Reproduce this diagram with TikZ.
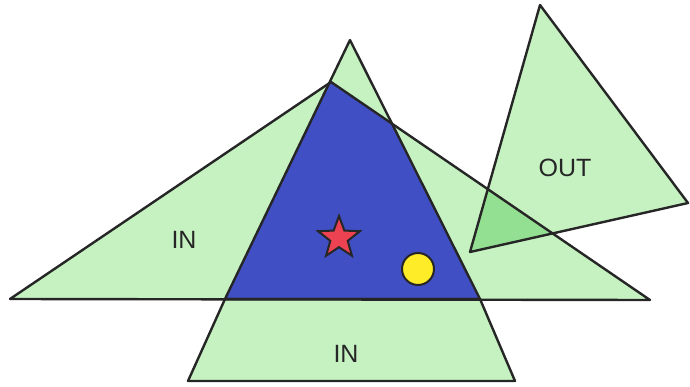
\documentclass[tikz,border=0pt]{standalone}
\usepackage{fontspec}
\newfontfamily\labelfont{Liberation Sans}
\usepackage{tikz}
\usetikzlibrary{shapes.geometric}
\definecolor{ingreen}{RGB}{198,242,194}
\definecolor{mixgreen}{RGB}{148,224,146}
\definecolor{coreblue}{RGB}{64,80,196}
\definecolor{starred}{RGB}{236,66,82}
\definecolor{dotyellow}{RGB}{255,236,40}
\tikzset{
  area/.style    = {fill=ingreen},
  overlap/.style = {fill=mixgreen},
  core/.style    = {fill=coreblue},
  rim/.style     = {draw=black!85, line width=2.4pt, line join=round},
  tag/.style     = {font=\labelfont\fontsize{25}{25}\selectfont, text=black!85, inner sep=0pt},
  marker/.style  = {draw=black!85, line width=2pt},
}
\begin{document}
\begin{tikzpicture}[x=1pt,y=-1pt]
  \useasboundingbox (0,0) rectangle (690,387);
  % corners of the regions
  \coordinate (wl) at (10,299);  \coordinate (wt) at (331,82);  \coordinate (wr) at (650,300);
  \coordinate (tt) at (350,40);  \coordinate (tl) at (225,299); \coordinate (tr) at (480,299);
  \coordinate (zl) at (188,381); \coordinate (zr) at (515,381);
  \coordinate (ot) at (540,5);   \coordinate (or) at (688,203); \coordinate (ol) at (470,252);
  % fills
  \fill[area] (wl) -- (wt) -- (wr) -- cycle;
  \fill[area] (tt) -- (tl) -- (tr) -- cycle;
  \fill[area] (tl) -- (tr) -- (zr) -- (zl) -- cycle;
  \fill[area] (ot) -- (or) -- (ol) -- cycle;
  \begin{scope}
    \clip (wl) -- (wt) -- (wr) -- cycle;
    \fill[overlap] (ot) -- (or) -- (ol) -- cycle;
    \fill[core] (tt) -- (tl) -- (tr) -- cycle;
  \end{scope}
  % outlines
  \draw[rim] (tl) -- (tr) -- (zr) -- (zl) -- cycle;
  \draw[rim] (wl) -- (wt) -- (wr) -- cycle;
  \draw[rim] (tt) -- (tl) -- (tr) -- cycle;
  \draw[rim] (ot) -- (or) -- (ol) -- cycle;
  % markers
  \node[marker, star, star points=5, star point ratio=2.4, minimum size=44pt,
        fill=starred, inner sep=0pt] (st) at (339,238) {};
  \node[marker, circle, minimum size=32pt, fill=dotyellow, inner sep=0pt] (dot) at (418,269) {};
  % labels
  \node[tag] (inleft) at (184,240) {IN};
  \node[tag] (inlow) at (346,354) {IN};
  \node[tag] (outlab) at (565,168) {OUT};
\end{tikzpicture}
\end{document}
